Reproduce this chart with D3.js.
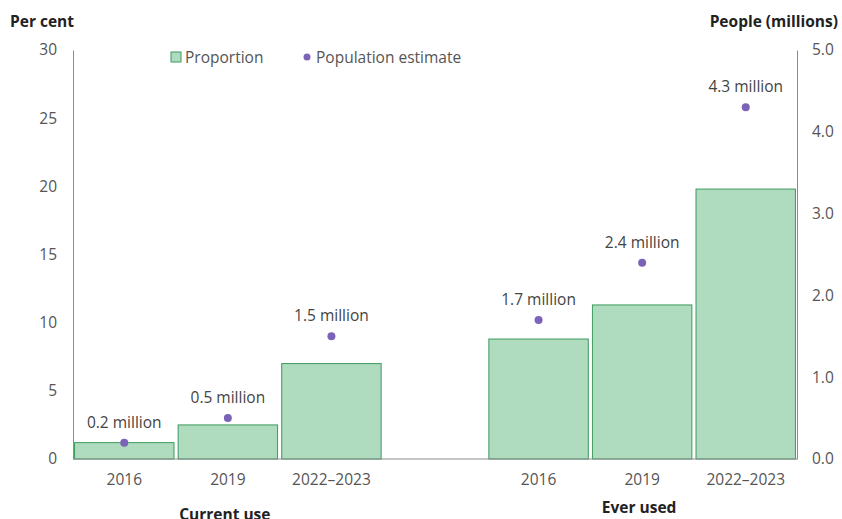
<!DOCTYPE html>
<html>
<head>
<meta charset="utf-8">
<script src="https://cdn.jsdelivr.net/npm/d3@7"></script>
<style>
body { margin: 0; background: #fff; }
text { font-family: "Open Sans", sans-serif; }
</style>
</head>
<body>
<script>
// data
var slots = ["c2016", "c2019", "c2022", "gap", "e2016", "e2019", "e2022"];
var yearLabels = ["2016", "2019", "2022–2023", "", "2016", "2019", "2022–2023"];
var proportion = [1.2, 2.5, 7.0, null, 8.8, 11.3, 19.8];
var population = [0.2, 0.5, 1.5, null, 1.7, 2.4, 4.3];
var popLabels = ["0.2 million", "0.5 million", "1.5 million", "", "1.7 million", "2.4 million", "4.3 million"];
var leftTicks = [0, 5, 10, 15, 20, 25, 30];
var rightTicks = [0, 1, 2, 3, 4, 5];
var groups = [{ name: "Current use", from: 0, to: 2, dy: 0 }, { name: "Ever used", from: 4, to: 6, dy: -7 }];

var W = 842, H = 519;
var plotL = 73, plotR = 797, plotT = 50, plotB = 459;
var fs = 15.5;

var svg = d3.select("body").append("svg").attr("width", W).attr("height", H);

var x = d3.scaleBand().domain(slots).range([plotL, plotR]).paddingInner(0.04).paddingOuter(0.015);
var yL = d3.scaleLinear().domain([0, 30]).range([plotB, plotT]);
var yR = d3.scaleLinear().domain([0, 5]).range([plotB, plotT]);

var rows = slots.map(function (s, i) {
    return { key: s, year: yearLabels[i], p: proportion[i], pop: population[i], lab: popLabels[i] };
});

// bars
svg.selectAll("rect.bar").data(rows.filter(function (d) { return d.p != null; }))
    .enter().append("rect").attr("class", "bar")
    .attr("x", function (d) { return x(d.key); })
    .attr("y", function (d) { return yL(d.p); })
    .attr("width", x.bandwidth())
    .attr("height", function (d) { return plotB - yL(d.p); })
    .attr("fill", "#afdbbf").attr("stroke", "#3d9a5e").attr("stroke-width", 1);

// axes
var leftAxis = d3.axisLeft(yL).tickValues(leftTicks).tickSize(0).tickPadding(16);
var gl = svg.append("g").attr("transform", "translate(" + plotL + ",0)").call(leftAxis);
var rightAxis = d3.axisRight(yR).tickValues(rightTicks).tickSize(0).tickPadding(15).tickFormat(d3.format(".1f"));
var gr = svg.append("g").attr("transform", "translate(" + plotR + ",0)").call(rightAxis);
var bottomAxis = d3.axisBottom(x).tickSize(0).tickPadding(15).tickFormat(function (d, i) { return yearLabels[i]; });
var gb = svg.append("g").attr("transform", "translate(0," + plotB + ")").call(bottomAxis);

[gl, gr, gb].forEach(function (g) {
    g.select(".domain").attr("stroke", "#8c8c8c");
    g.selectAll("text").attr("font-size", fs).attr("fill", "#555").attr("font-family", "Open Sans, sans-serif");
});
gb.select(".domain").attr("d", "M" + plotL + ",0H" + plotR);

// dots and labels
var pts = rows.filter(function (d) { return d.pop != null; });
svg.selectAll("circle.dot").data(pts).enter().append("circle")
    .attr("cx", function (d) { return x(d.key) + x.bandwidth() / 2; })
    .attr("cy", function (d) { return yR(d.pop); })
    .attr("r", 4).attr("fill", "#7b63b8");
svg.selectAll("text.lab").data(pts).enter().append("text")
    .attr("x", function (d) { return x(d.key) + x.bandwidth() / 2; })
    .attr("y", function (d) { return yR(d.pop) - 15; })
    .attr("text-anchor", "middle").attr("font-size", fs).attr("fill", "#444")
    .text(function (d) { return d.lab; });

// group labels
groups.forEach(function (g) {
    var cx = (x(slots[g.from]) + x(slots[g.to]) + x.bandwidth()) / 2;
    svg.append("text").attr("x", cx - 3).attr("y", 520 + g.dy)
        .attr("text-anchor", "middle").attr("font-size", fs).attr("font-weight", "bold").attr("fill", "#222")
        .text(g.name);
});

// axis titles
svg.append("text").attr("x", 10).attr("y", 27).attr("font-size", fs).attr("font-weight", "bold").attr("fill", "#222").text("Per cent");
svg.append("text").attr("x", 838).attr("y", 27).attr("text-anchor", "end").attr("font-size", fs).attr("font-weight", "bold").attr("fill", "#222").text("People (millions)");

// legend
svg.append("rect").attr("x", 171).attr("y", 52).attr("width", 10).attr("height", 10)
    .attr("fill", "#afdbbf").attr("stroke", "#3d9a5e");
svg.append("text").attr("x", 185).attr("y", 63).attr("font-size", fs).attr("fill", "#555").text("Proportion");
svg.append("circle").attr("cx", 307).attr("cy", 57).attr("r", 3.5).attr("fill", "#7b63b8");
svg.append("text").attr("x", 316).attr("y", 63).attr("font-size", fs).attr("fill", "#555").text("Population estimate");
</script>
</body>
</html>
